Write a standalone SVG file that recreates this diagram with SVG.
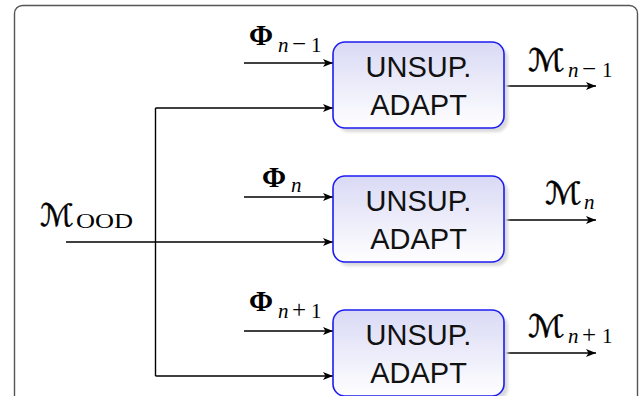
<svg xmlns="http://www.w3.org/2000/svg" width="641" height="396" viewBox="0 0 641 396">
  <style>
    .frame { fill: #ffffff; stroke: #555555; stroke-width: 1.4; }
    .box { stroke: #1c1cf2; stroke-width: 1.6; fill: url(#boxFill); }
    .shadow { fill: #d9d9d9; filter: url(#soft); }
    .boxText { font-family: "Liberation Sans", Arial, sans-serif; font-size: 29px; fill: #111111; text-anchor: middle; }
    .wire { fill: none; stroke: #000000; stroke-width: 1.4; }
    .arrow { fill: none; stroke: #000000; stroke-width: 1.4; marker-end: url(#head); }
    .phi { font-family: "Liberation Serif", "DejaVu Serif", serif; font-weight: bold; font-size: 29px; fill: #000000; }
    .cal { font-family: "DejaVu Serif", "DejaVu Sans", serif; font-size: 31px; fill: #000000; stroke: #000000; stroke-width: 0.5; }
    .sub { font-family: "Liberation Serif", "DejaVu Serif", serif; font-size: 21px; fill: #000000; }
    .rm { font-family: "Liberation Serif", "DejaVu Serif", serif; font-size: 21px; fill: #000000; }
    .it { font-style: italic; }
    .op { font-size: 25px; }
  </style>
  <defs>
    <linearGradient id="boxFill" x1="0" y1="0" x2="0" y2="1">
      <stop offset="0" stop-color="#d9d9f5"/>
      <stop offset="1" stop-color="#ffffff"/>
    </linearGradient>
    <filter id="soft" x="-10%" y="-10%" width="120%" height="120%">
      <feGaussianBlur stdDeviation="1.8"/>
    </filter>
    <marker id="head" viewBox="-11 -5 12 10" refX="0" refY="0" markerWidth="12" markerHeight="10" markerUnits="userSpaceOnUse" orient="auto">
      <path d="M0,0 L-10,-4 L-7.5,0 L-10,4 Z" fill="#000000"/>
    </marker>
  </defs>

  <!-- outer panel -->
  <rect class="frame" x="14.5" y="5.5" width="623" height="430" rx="8"/>

  <!-- wiring -->
  <g id="connectors">
    <polyline class="wire" points="155.5,108 155.5,376"/>
    <line class="arrow" x1="155.5" y1="108" x2="333" y2="108"/>
    <line class="arrow" x1="66" y1="242" x2="333" y2="242"/>
    <line class="arrow" x1="155.5" y1="376" x2="333" y2="376"/>
    <line class="arrow" x1="244" y1="63" x2="333" y2="63"/>
    <line class="arrow" x1="244" y1="197" x2="333" y2="197"/>
    <line class="arrow" x1="244" y1="331" x2="333" y2="331"/>
    <line class="arrow" x1="504" y1="86" x2="596" y2="86"/>
    <line class="arrow" x1="504" y1="220" x2="596" y2="220"/>
    <line class="arrow" x1="504" y1="353" x2="596" y2="353"/>
  </g>

  <!-- adaptation blocks -->
  <g id="adapt-1">
    <rect class="shadow" x="337" y="46" width="171" height="86" rx="12"/>
    <rect class="box" x="333" y="42" width="171" height="86" rx="12"/>
    <text class="boxText" x="418.5" y="77">UNSUP.</text>
    <text class="boxText" x="418.5" y="115">ADAPT</text>
  </g>
  <g id="adapt-2">
    <rect class="shadow" x="337" y="180" width="171" height="86" rx="12"/>
    <rect class="box" x="333" y="176" width="171" height="86" rx="12"/>
    <text class="boxText" x="418.5" y="211">UNSUP.</text>
    <text class="boxText" x="418.5" y="249">ADAPT</text>
  </g>
  <g id="adapt-3">
    <rect class="shadow" x="337" y="314" width="171" height="86" rx="12"/>
    <rect class="box" x="333" y="310" width="171" height="86" rx="12"/>
    <text class="boxText" x="418.5" y="345">UNSUP.</text>
    <text class="boxText" x="418.5" y="383">ADAPT</text>
  </g>

  <!-- signal labels -->
  <g id="label-mood">
    <text class="cal" x="40" y="226" textLength="34" lengthAdjust="spacingAndGlyphs">ℳ</text>
    <text class="rm" x="76" y="228" textLength="57" lengthAdjust="spacingAndGlyphs">OOD</text>
  </g>
  <g id="label-phi-1">
    <text class="phi" x="249" y="45">Φ</text>
    <text class="sub" y="52"><tspan class="it" x="278">n</tspan><tspan class="op" x="292">−</tspan><tspan x="311">1</tspan></text>
  </g>
  <g id="label-phi-2">
    <text class="phi" x="262" y="187">Φ</text>
    <text class="sub" y="192"><tspan class="it" x="291">n</tspan></text>
  </g>
  <g id="label-phi-3">
    <text class="phi" x="249" y="311">Φ</text>
    <text class="sub" y="318"><tspan class="it" x="278">n</tspan><tspan class="op" x="292">+</tspan><tspan x="311">1</tspan></text>
  </g>
  <g id="label-m-1">
    <text class="cal" x="528" y="71" textLength="37" lengthAdjust="spacingAndGlyphs">ℳ</text>
    <text class="sub" y="77"><tspan class="it" x="568">n</tspan><tspan class="op" x="582">−</tspan><tspan x="602">1</tspan></text>
  </g>
  <g id="label-m-2">
    <text class="cal" x="545" y="204" textLength="37" lengthAdjust="spacingAndGlyphs">ℳ</text>
    <text class="sub" y="209"><tspan class="it" x="584">n</tspan></text>
  </g>
  <g id="label-m-3">
    <text class="cal" x="528" y="337" textLength="37" lengthAdjust="spacingAndGlyphs">ℳ</text>
    <text class="sub" y="343"><tspan class="it" x="568">n</tspan><tspan class="op" x="582">+</tspan><tspan x="602">1</tspan></text>
  </g>
</svg>
